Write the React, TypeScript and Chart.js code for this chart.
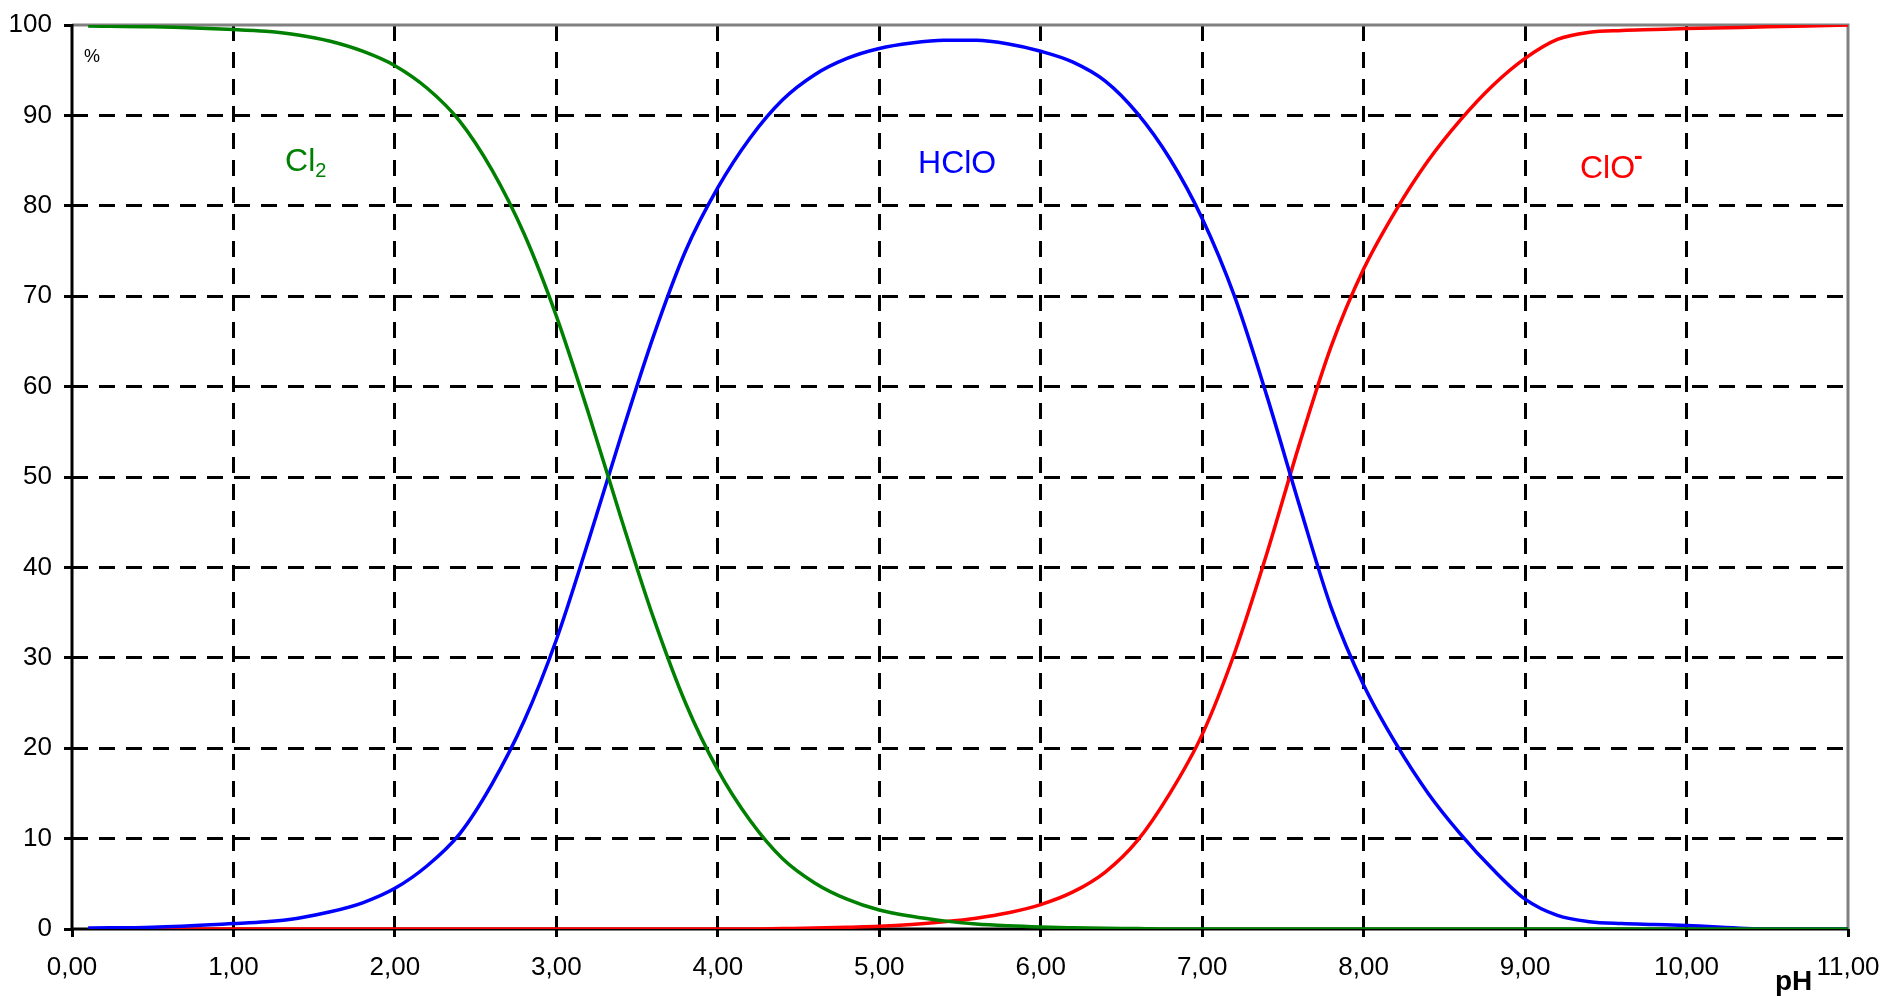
import React, { useEffect, useRef } from 'react';
import { Chart, registerables } from 'chart.js';

Chart.register(...registerables);

// pH sample points
const pH = [
  0.1, 0.5,
  1.0, 1.2, 1.4, 1.6, 1.8,
  2.0, 2.2, 2.4, 2.6, 2.8,
  3.0, 3.2, 3.4, 3.6, 3.8,
  4.0, 4.2, 4.4, 4.6, 4.8,
  5.0, 5.2, 5.4, 5.6, 5.8,
  6.0, 6.2, 6.4, 6.6, 6.8,
  7.0, 7.2, 7.4, 7.6, 7.8,
  8.0, 8.2, 8.4, 8.6, 8.8,
  9.0, 9.2, 9.4, 9.6, 9.8,
  10.0,
  10.5, 11.0,
];

// Cl2 (%)
const cl2 = [
  99.9, 99.8,
  99.5, 99.3, 98.9, 98.2, 97.1,
  95.5, 93, 89.4, 84, 76.9,
  67.8, 57, 45.5, 34.5, 25,
  17.6, 12, 7.8, 5.1, 3.3,
  2.1, 1.4, 0.9, 0.55, 0.35,
  0.22, 0.14, 0.08, 0.05, 0,
  0, 0, 0, 0, 0,
  0, 0, 0, 0, 0,
  0, 0, 0, 0, 0,
  0,
  0, 0,
];

// HClO (%)
const hclo = [
  0.1, 0.2,
  0.6, 0.8, 1.2, 1.9, 2.9,
  4.5, 7, 10.5, 16, 23,
  32, 43, 54.5, 65.5, 75,
  82, 87.5, 91.7, 94.5, 96.3,
  97.4, 98, 98.3, 98.3, 97.9,
  97.1, 95.9, 93.8, 90.2, 85.2,
  78.6, 70, 59, 47, 35.5,
  27, 20.5, 15, 10.5, 6.6,
  3.3, 1.5, 0.8, 0.6, 0.5,
  0.4,
  0, 0,
];

// ClO- (%)
const clo = [
  0, 0,
  0, 0, 0, 0, 0,
  0, 0, 0, 0, 0,
  0, 0, 0, 0, 0,
  0, 0, 0.05, 0.1, 0.2,
  0.3, 0.5, 0.8, 1.2, 1.8,
  2.7, 4.1, 6.3, 9.8, 15,
  21.5, 30.5, 41.5, 53.5, 64.5,
  73, 79.5, 85, 89.5, 93.3,
  96.3, 98.4, 99.2, 99.4, 99.5,
  99.6,
  99.8, 100,
];

const X_MIN = 0;
const X_MAX = 11;
const Y_MIN = 0;
const Y_MAX = 100;

const FONT = '"Liberation Sans", Arial, Helvetica, sans-serif';

const framePlugin = {
  id: 'frame',
  beforeDatasetsDraw(chart: any) {
    const { ctx, chartArea: a } = chart;
    ctx.save();
    ctx.setLineDash([]);
    ctx.lineWidth = 3;
    ctx.strokeStyle = '#808080';
    ctx.beginPath();
    ctx.moveTo(a.left, a.top);
    ctx.lineTo(a.right, a.top);
    ctx.lineTo(a.right, a.bottom);
    ctx.stroke();
    ctx.strokeStyle = '#000';
    ctx.beginPath();
    ctx.moveTo(a.left, a.top - 1);
    ctx.lineTo(a.left, a.bottom);
    ctx.lineTo(a.right, a.bottom);
    ctx.stroke();
    ctx.restore();
  },
};

const labelPlugin = {
  id: 'labels',
  afterDatasetsDraw(chart: any) {
    const { ctx, chartArea: a } = chart;
    const xs = chart.scales.x;
    const ys = chart.scales.y;
    ctx.save();
    ctx.textAlign = 'left';
    ctx.textBaseline = 'alphabetic';

    // Cl2
    let x = xs.getPixelForValue(1.32);
    let y = ys.getPixelForValue(83.8);
    ctx.fillStyle = '#008000';
    ctx.font = `32px ${FONT}`;
    ctx.fillText('Cl', x, y);
    let w = ctx.measureText('Cl').width;
    ctx.font = `20px ${FONT}`;
    ctx.fillText('2', x + w, y + 6);

    // HClO
    x = xs.getPixelForValue(5.24);
    y = ys.getPixelForValue(83.6);
    ctx.fillStyle = '#0000ff';
    ctx.font = `32px ${FONT}`;
    ctx.fillText('HClO', x, y);

    // ClO-
    x = xs.getPixelForValue(9.34);
    y = ys.getPixelForValue(83.1);
    ctx.fillStyle = '#ff0000';
    ctx.font = `32px ${FONT}`;
    ctx.fillText('ClO', x, y);
    w = ctx.measureText('ClO').width;
    ctx.font = `bold 26px ${FONT}`;
    ctx.fillText('-', x + w - 1, y - 14);

    // % unit
    ctx.fillStyle = '#000';
    ctx.font = `18px ${FONT}`;
    ctx.textBaseline = 'middle';
    ctx.fillText('%', a.left + 12, a.top + 32);

    // pH axis title
    ctx.textBaseline = 'alphabetic';
    ctx.font = `bold 28px ${FONT}`;
    ctx.fillText('pH', a.right - 73, a.bottom + 61);
    ctx.restore();
  },
};

export default function App() {
  const ref = useRef<HTMLCanvasElement>(null);

  useEffect(() => {
    document.body.style.margin = '0';
    const toPts = (ys: number[]) => pH.map((x, i) => ({ x, y: ys[i] }));
    const chart = new Chart(ref.current as HTMLCanvasElement, {
      type: 'line',
      data: {
        datasets: [
          { label: 'Cl2', data: toPts(cl2), borderColor: '#008000', backgroundColor: '#008000' },
          { label: 'HClO', data: toPts(hclo), borderColor: '#0000ff', backgroundColor: '#0000ff' },
          { label: 'ClO-', data: toPts(clo), borderColor: '#ff0000', backgroundColor: '#ff0000' },
        ],
      },
      options: {
        animation: false,
        responsive: true,
        maintainAspectRatio: false,
        layout: { padding: { left: 0, top: 0, right: 0, bottom: 0 } },
        plugins: { legend: { display: false }, tooltip: { enabled: false } },
        elements: {
          point: { radius: 0, hoverRadius: 0 },
          line: { borderWidth: 3.5, cubicInterpolationMode: 'monotone', fill: false },
        },
        scales: {
          x: {
            type: 'linear',
            min: X_MIN,
            max: X_MAX,
            afterFit: (s: any) => {
              s.height = 67;
              s.paddingLeft = 0;
              s.paddingRight = 36;
              s.paddingTop = 0;
              s.paddingBottom = 0;
            },
            ticks: {
              stepSize: 1,
              padding: 15,
              color: '#000',
              maxRotation: 0,
              autoSkip: false,
              font: { family: FONT, size: 26 },
              callback: (v: any) => Number(v).toFixed(2).replace('.', ','),
            },
            grid: {
              color: (c: any) => (c.tick && (c.tick.value === X_MIN || c.tick.value === X_MAX) ? 'rgba(0,0,0,0)' : '#000'),
              lineWidth: 3,
              tickLength: 8,
              tickColor: '#000',
              tickWidth: 3,
            },
            border: { display: false, dash: [16, 11] },
          },
          y: {
            type: 'linear',
            min: Y_MIN,
            max: Y_MAX,
            afterFit: (s: any) => {
              s.width = 72;
              s.paddingTop = 25;
              s.paddingBottom = 0;
              s.paddingLeft = 0;
              s.paddingRight = 0;
            },
            ticks: {
              stepSize: 10,
              padding: 12,
              color: '#000',
              font: { family: FONT, size: 26 },
            },
            grid: {
              color: (c: any) => (c.tick && (c.tick.value === Y_MIN || c.tick.value === Y_MAX) ? 'rgba(0,0,0,0)' : '#000'),
              lineWidth: 3,
              tickLength: 8,
              tickColor: '#000',
              tickWidth: 3,
            },
            border: { display: false, dash: [16, 11] },
          },
        },
      },
      plugins: [framePlugin, labelPlugin],
    } as any);
    return () => chart.destroy();
  }, []);

  return (
    <div style={{ width: 1884, height: 996, position: 'relative' }}>
      <canvas ref={ref} />
    </div>
  );
}
